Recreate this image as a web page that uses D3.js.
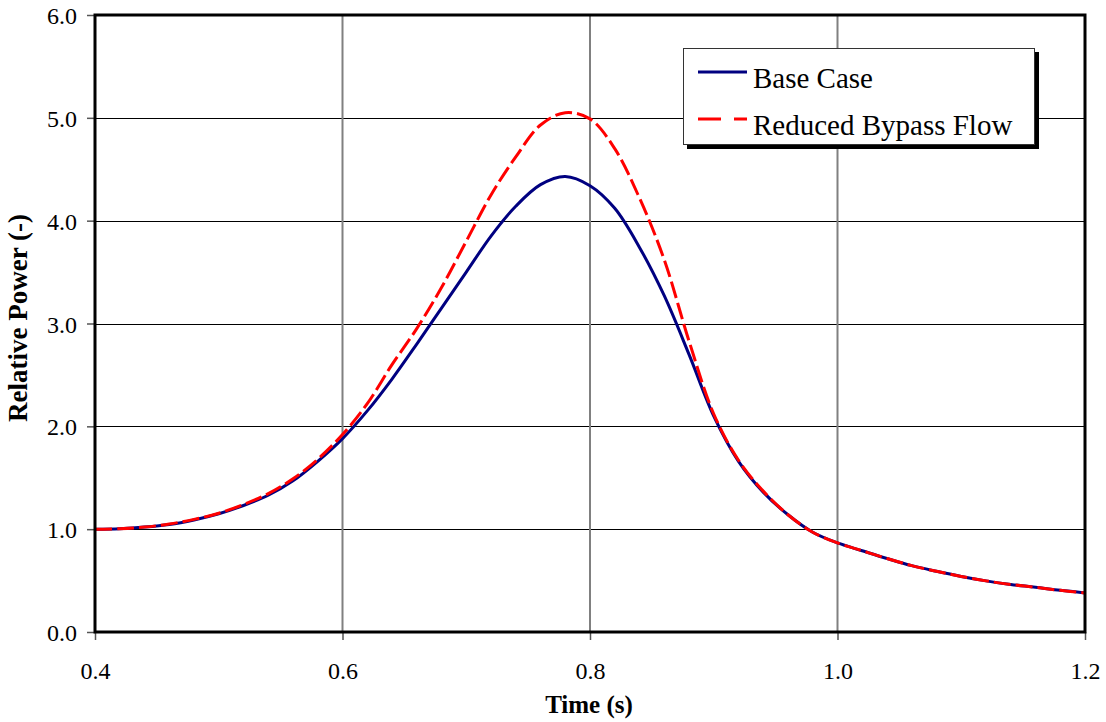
<!DOCTYPE html>
<html>
<head>
<meta charset="utf-8">
<script src="https://cdn.jsdelivr.net/npm/d3@7"></script>
<style>
  html, body { margin: 0; padding: 0; background: #ffffff; }
  svg { display: block; }
  text { font-family: "Liberation Serif", "Times New Roman", serif; fill: #000; }
</style>
</head>
<body>
<svg id="chart" width="1106" height="722"></svg>
<script>
// ---- data ----
const times = [0.40,0.42,0.44,0.46,0.48,0.50,0.52,0.54,0.56,0.58,0.60,0.62,0.64,0.66,0.68,0.70,0.72,0.74,0.76,0.78,0.80,0.82,0.84,0.86,0.88,0.90,0.92,0.94,0.96,0.98,1.00,1.02,1.04,1.06,1.08,1.10,1.12,1.14,1.16,1.18,1.20];
const baseCase = [1.00,1.005,1.02,1.045,1.09,1.15,1.23,1.33,1.47,1.66,1.88,2.15,2.46,2.80,3.15,3.50,3.85,4.14,4.35,4.43,4.34,4.12,3.74,3.27,2.70,2.10,1.66,1.36,1.14,0.97,0.866,0.79,0.715,0.645,0.59,0.54,0.497,0.462,0.435,0.405,0.38];
const reducedBypass = [1.00,1.005,1.02,1.05,1.095,1.155,1.24,1.345,1.49,1.68,1.92,2.22,2.60,2.95,3.35,3.80,4.25,4.62,4.93,5.05,4.99,4.70,4.22,3.62,2.83,2.12,1.67,1.37,1.14,0.97,0.866,0.79,0.715,0.645,0.59,0.54,0.497,0.462,0.435,0.405,0.38];
const xTicks = [0.4,0.6,0.8,1.0,1.2];
const yTicks = [0,1,2,3,4,5,6];
const seriesNames = ["Base Case","Reduced Bypass Flow"];
const seriesColors = ["#000080","#ff0000"];

// ---- layout ----
const L = 95, R = 1085, T = 15, B = 632;
const svg = d3.select("#chart");
const x = d3.scaleLinear().domain([0.4,1.2]).range([L,R]);
const y = d3.scaleLinear().domain([0,6]).range([B,T]);

// horizontal gridlines (black)
svg.append("g").selectAll("line").data(yTicks.filter(d=>d>0 && d<6)).join("line")
  .attr("x1",L).attr("x2",R).attr("y1",d=>Math.round(y(d))+0.5).attr("y2",d=>Math.round(y(d))+0.5)
  .attr("stroke","#000").attr("stroke-width",1.2);
// vertical gridlines (grey)
svg.append("g").selectAll("line").data(xTicks.filter(d=>d>0.4 && d<1.2)).join("line")
  .attr("x1",d=>x(d)).attr("x2",d=>x(d)).attr("y1",T).attr("y2",B)
  .attr("stroke","#808080").attr("stroke-width",2);

// axes
const yAxis = d3.axisLeft(y).tickValues(yTicks).tickFormat(d3.format(".1f")).tickSize(8).tickPadding(10);
const gy = svg.append("g").attr("transform",`translate(${L},0)`).call(yAxis);
gy.attr("font-family","Liberation Serif");
gy.select(".domain").remove();
gy.selectAll(".tick line").attr("stroke","#555").attr("stroke-width",1.5);
gy.selectAll(".tick text").attr("font-size",24).attr("fill","#000").attr("dy","0.36em");

const xAxis = d3.axisBottom(x).tickValues(xTicks).tickFormat(d3.format(".1f")).tickSize(8).tickPadding(22);
const gx = svg.append("g").attr("transform",`translate(0,${B})`).call(xAxis);
gx.attr("font-family","Liberation Serif");
gx.select(".domain").remove();
gx.selectAll(".tick line").attr("stroke","#555").attr("stroke-width",1.5);
gx.selectAll(".tick text").attr("font-size",24).attr("fill","#000");

// series
const data0 = times.map((t,i)=>({t, v: baseCase[i]}));
const data1 = times.map((t,i)=>({t, v: reducedBypass[i]}));
const line = d3.line().x(d=>x(d.t)).y(d=>y(d.v)).curve(d3.curveCatmullRom.alpha(0.5));
svg.append("clipPath").attr("id","clip").append("rect").attr("x",L).attr("y",T).attr("width",R-L).attr("height",B-T);
svg.append("path").datum(data0).attr("d",line).attr("fill","none")
  .attr("stroke",seriesColors[0]).attr("stroke-width",3).attr("clip-path","url(#clip)");
svg.append("path").datum(data1).attr("d",line).attr("fill","none")
  .attr("stroke",seriesColors[1]).attr("stroke-width",3).attr("stroke-dasharray","17,5").attr("clip-path","url(#clip)");

// frame
svg.append("rect").attr("x",L).attr("y",T).attr("width",R-L).attr("height",B-T)
  .attr("fill","none").attr("stroke","#000").attr("stroke-width",3);

// legend
const lg = svg.append("g");
lg.append("rect").attr("x",687).attr("y",52).attr("width",352).attr("height",97).attr("fill","#000");
lg.append("rect").attr("x",683.5).attr("y",48.5).attr("width",351).attr("height",96).attr("fill","#fff").attr("stroke","#333").attr("stroke-width",1);
const legY = [72, 119];
seriesNames.forEach((name,i)=>{
  lg.append("line").attr("x1",698).attr("x2",747).attr("y1",legY[i]).attr("y2",legY[i])
    .attr("stroke",seriesColors[i]).attr("stroke-width",3)
    .attr("stroke-dasharray", i===1 ? "23,13" : null);
  lg.append("text").attr("x",753).attr("y",legY[i]+16).attr("font-size",29).text(name);
});

// axis titles
svg.append("text").attr("x",589).attr("y",713).attr("text-anchor","middle")
  .attr("font-size",25).attr("font-weight","bold").text("Time (s)");
svg.append("text").attr("transform","translate(27,318) rotate(-90)").attr("text-anchor","middle")
  .attr("font-size",27).attr("font-weight","bold").text("Relative Power (-)");
</script>
</body>
</html>
